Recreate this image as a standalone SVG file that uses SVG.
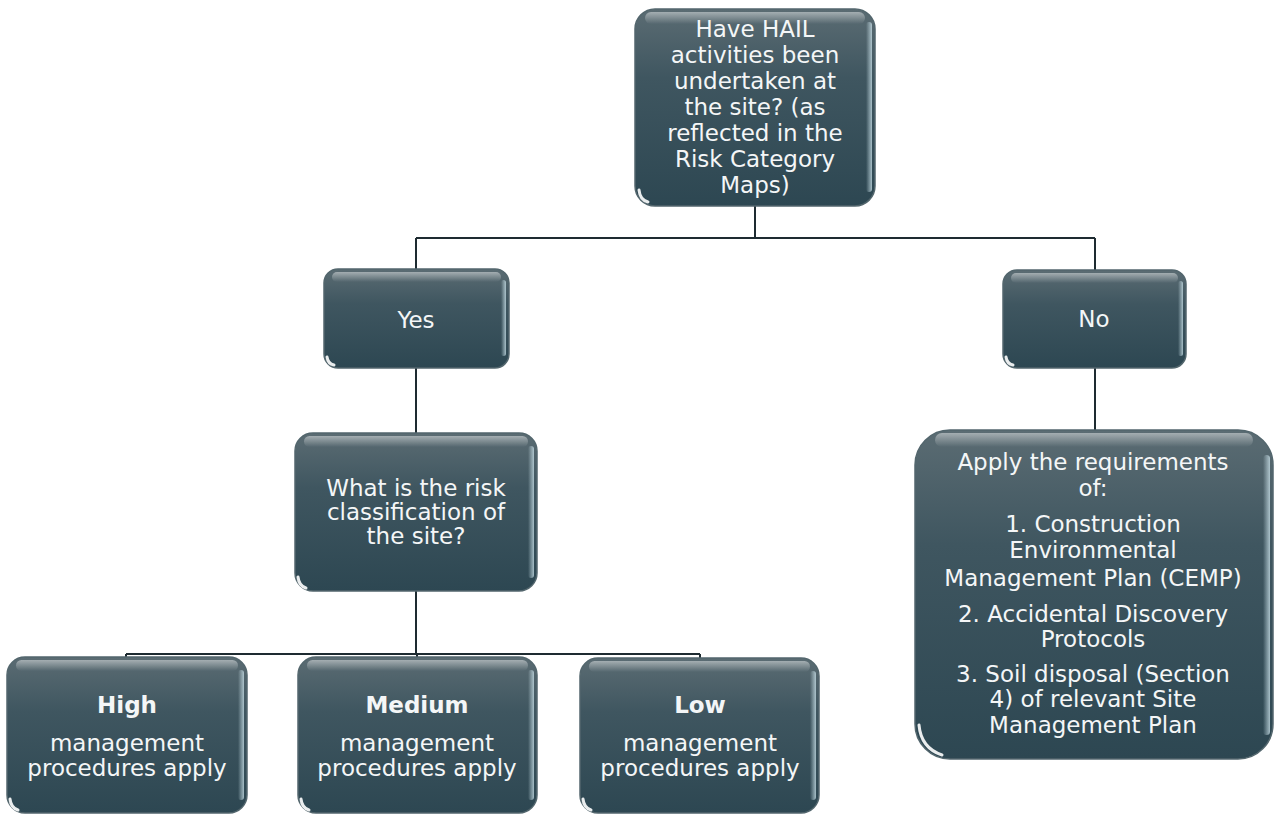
<svg xmlns="http://www.w3.org/2000/svg" width="1274" height="814" viewBox="0 0 1274 814">
<defs>
<linearGradient id="fillG" x1="0" y1="0" x2="0" y2="1">
<stop offset="0" stop-color="#5b6c73"/>
<stop offset="0.35" stop-color="#3f5660"/>
<stop offset="1" stop-color="#2d4752"/>
</linearGradient>
<linearGradient id="topG" x1="0" y1="0" x2="0" y2="1">
<stop offset="0" stop-color="#ffffff" stop-opacity="0.45"/>
<stop offset="1" stop-color="#ffffff" stop-opacity="0"/>
</linearGradient>
<linearGradient id="rightG" x1="0" y1="0" x2="1" y2="0">
<stop offset="0" stop-color="#cfe6ee" stop-opacity="0"/>
<stop offset="1" stop-color="#cfe6ee" stop-opacity="0.75"/>
</linearGradient>
</defs>
<style>
.box{fill:url(#fillG);stroke:#53666d;stroke-width:1.5}
.gloss{fill:url(#topG)}
.rim{fill:url(#rightG)}
.spot{fill:none;stroke:#ffffff;stroke-width:3;stroke-linecap:round;opacity:0.9}
.t{font-family:"DejaVu Sans","Verdana",sans-serif;font-size:23px;fill:#f4f6f7;text-anchor:middle}
.b{font-weight:bold}
.conn{fill:none;stroke:#1e2b31;stroke-width:2}
</style>
<rect width="1274" height="814" fill="#ffffff"/>
<g id="connectors">
<path class="conn" d="M755,206 V238 M416,238 H1095 M416,238 V269 M1095,238 V270"/>
<path class="conn" d="M416,368 V433"/>
<path class="conn" d="M416,591 V654 M126,654 H700 M126,654 V657 M417,654 V657 M700,654 V658"/>
<path class="conn" d="M1095,368 V430"/>
</g>
<g id="node-top">
<rect class="box" x="635" y="9" width="240" height="197" rx="20"/>
<rect class="gloss" x="645" y="12" width="220" height="12" rx="6"/>
<rect class="rim" x="866" y="22" width="6" height="170" rx="3"/>
<path class="spot" d="M639,190 Q640,200 648,202"/>
<text class="t" x="755" y="37">Have HAIL</text>
<text class="t" x="755" y="63">activities been</text>
<text class="t" x="755" y="89">undertaken at</text>
<text class="t" x="755" y="115">the site? (as</text>
<text class="t" x="755" y="141">reflected in the</text>
<text class="t" x="755" y="167">Risk Category</text>
<text class="t" x="755" y="193">Maps)</text>
</g>
<g id="node-yes">
<rect class="box" x="324" y="269" width="185" height="99" rx="14"/>
<rect class="gloss" x="332" y="272" width="169" height="10" rx="5"/>
<rect class="rim" x="501" y="280" width="5" height="76" rx="2.5"/>
<path class="spot" d="M327,357 Q328,364 334,365"/>
<text class="t" x="416" y="328">Yes</text>
</g>
<g id="node-no">
<rect class="box" x="1003" y="270" width="183" height="98" rx="14"/>
<rect class="gloss" x="1011" y="273" width="167" height="10" rx="5"/>
<rect class="rim" x="1178" y="281" width="5" height="75" rx="2.5"/>
<path class="spot" d="M1006,357 Q1007,364 1013,365"/>
<text class="t" x="1094" y="327">No</text>
</g>
<g id="node-what">
<rect class="box" x="295" y="433" width="242" height="158" rx="18"/>
<rect class="gloss" x="304" y="436" width="224" height="11" rx="5.5"/>
<rect class="rim" x="528" y="446" width="6" height="132" rx="3"/>
<path class="spot" d="M298,577 Q299,586 306,588"/>
<text class="t" x="416" y="496">What is the risk</text>
<text class="t" x="416" y="520">classification of</text>
<text class="t" x="416" y="544">the site?</text>
</g>
<g id="node-high">
<rect class="box" x="7" y="657" width="240" height="156" rx="18"/>
<rect class="gloss" x="16" y="660" width="222" height="11" rx="5.5"/>
<rect class="rim" x="238" y="670" width="6" height="130" rx="3"/>
<path class="spot" d="M10,799 Q11,808 18,810"/>
<text class="t b" x="127" y="713">High</text>
<text class="t" x="127" y="751">management</text>
<text class="t" x="127" y="776">procedures apply</text>
</g>
<g id="node-medium">
<rect class="box" x="298" y="657" width="239" height="156" rx="18"/>
<rect class="gloss" x="307" y="660" width="221" height="11" rx="5.5"/>
<rect class="rim" x="528" y="670" width="6" height="130" rx="3"/>
<path class="spot" d="M301,799 Q302,808 309,810"/>
<text class="t b" x="417" y="713">Medium</text>
<text class="t" x="417" y="751">management</text>
<text class="t" x="417" y="776">procedures apply</text>
</g>
<g id="node-low">
<rect class="box" x="580" y="658" width="239" height="155" rx="18"/>
<rect class="gloss" x="589" y="661" width="221" height="11" rx="5.5"/>
<rect class="rim" x="810" y="671" width="6" height="129" rx="3"/>
<path class="spot" d="M583,799 Q584,808 591,810"/>
<text class="t b" x="700" y="713">Low</text>
<text class="t" x="700" y="751">management</text>
<text class="t" x="700" y="776">procedures apply</text>
</g>
<g id="node-apply">
<rect class="box" x="915" y="430" width="358" height="329" rx="35"/>
<rect class="gloss" x="935" y="433" width="318" height="14" rx="7"/>
<rect class="rim" x="1263" y="455" width="7" height="280" rx="3.5"/>
<path class="spot" d="M919,725 Q921,748 942,755"/>
<text class="t" x="1093" y="470">Apply the requirements</text>
<text class="t" x="1093" y="496">of:</text>
<text class="t" x="1093" y="532">1. Construction</text>
<text class="t" x="1093" y="558">Environmental</text>
<text class="t" x="1093" y="586">Management Plan (CEMP)</text>
<text class="t" x="1093" y="622">2. Accidental Discovery</text>
<text class="t" x="1093" y="647">Protocols</text>
<text class="t" x="1093" y="682">3. Soil disposal (Section</text>
<text class="t" x="1093" y="707">4) of relevant Site</text>
<text class="t" x="1093" y="733">Management Plan</text>
</g>
</svg>
